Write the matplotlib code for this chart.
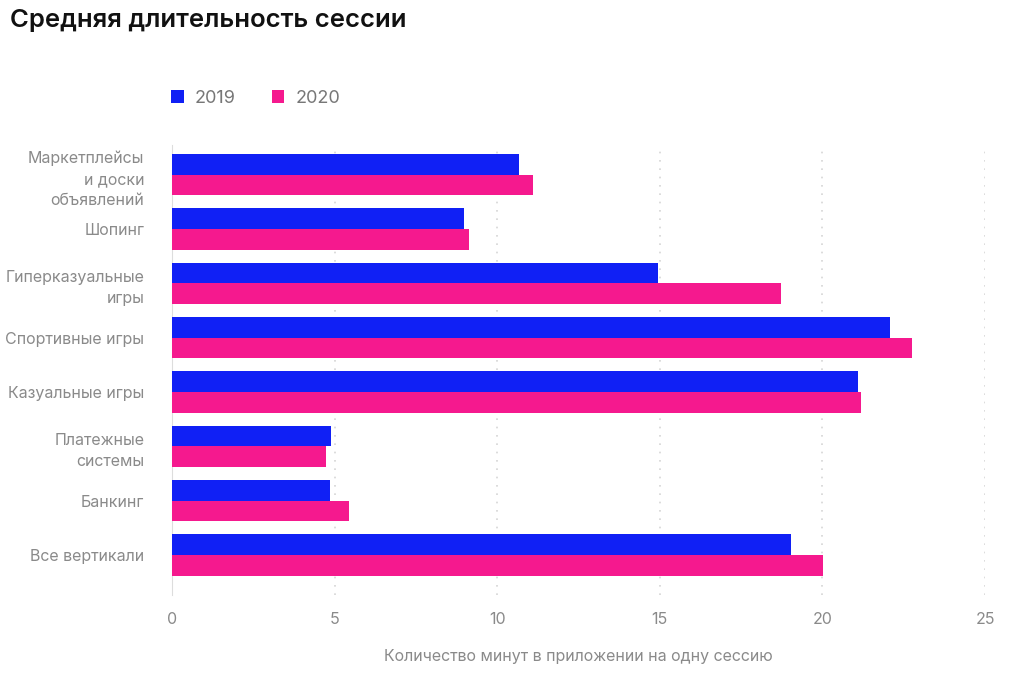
import matplotlib.pyplot as plt
import numpy as np

plt.rcParams['font.family'] = ['Inter', 'DejaVu Sans']

categories = ['Маркетплейсы\nи доски\nобъявлений', 'Шопинг', 'Гиперказуальные\nигры',
              'Спортивные игры', 'Казуальные игры', 'Платежные\nсистемы', 'Банкинг',
              'Все вертикали']
v2019 = [10.67, 8.98, 14.95, 22.08, 21.1, 4.89, 4.86, 19.03]
v2020 = [11.1, 9.13, 18.73, 22.75, 21.19, 4.74, 5.44, 20.02]
xticks = [0, 5, 10, 15, 20, 25]

blue = '#1020F5'
pink = '#F5198E'
grey = '#8a8a8a'

fig = plt.figure(figsize=(10.24, 6.77), dpi=100)
ax = fig.add_axes([0.168, 0.121, 0.794, 0.665])

y = np.arange(len(categories))
h = 0.38
ax.barh(y - h / 2, v2019, height=h, color=blue, label='2019', zorder=3)
ax.barh(y + h / 2, v2020, height=h, color=pink, label='2020', zorder=3)

ax.set_ylim(7.74, -0.55)
ax.set_xlim(0, 25)
ax.set_xticks(xticks)
ax.set_yticks(y)
ax.set_yticklabels(categories, fontsize=11.5, color=grey, linespacing=1.5)
ax.tick_params(axis='y', length=0, pad=20)
ax.tick_params(axis='x', length=0, pad=12, labelsize=11.5, labelcolor=grey)

for s in ['top', 'right', 'bottom']:
    ax.spines[s].set_visible(False)
ax.spines['left'].set_color('#dddddd')
ax.grid(axis='x', color='#d5d5d5', linestyle=(0, (1, 4)), linewidth=1.2, zorder=0)
ax.set_axisbelow(True)

ax.set_xlabel('Количество минут в приложении на одну сессию', fontsize=11.5,
              color=grey, labelpad=16)

fig.text(0.01, 0.97, 'Средняя длительность сессии', fontsize=18.5, fontweight='semibold',
         color='#111111', va='center')

ax.legend(loc='lower left', bbox_to_anchor=(-0.01, 1.068), ncol=2, frameon=False,
          fontsize=13, labelcolor='#777777', handlelength=0.7, handleheight=0.7,
          handletextpad=0.6, columnspacing=2.0, borderaxespad=0)

fig.savefig('out.png', dpi=100)
